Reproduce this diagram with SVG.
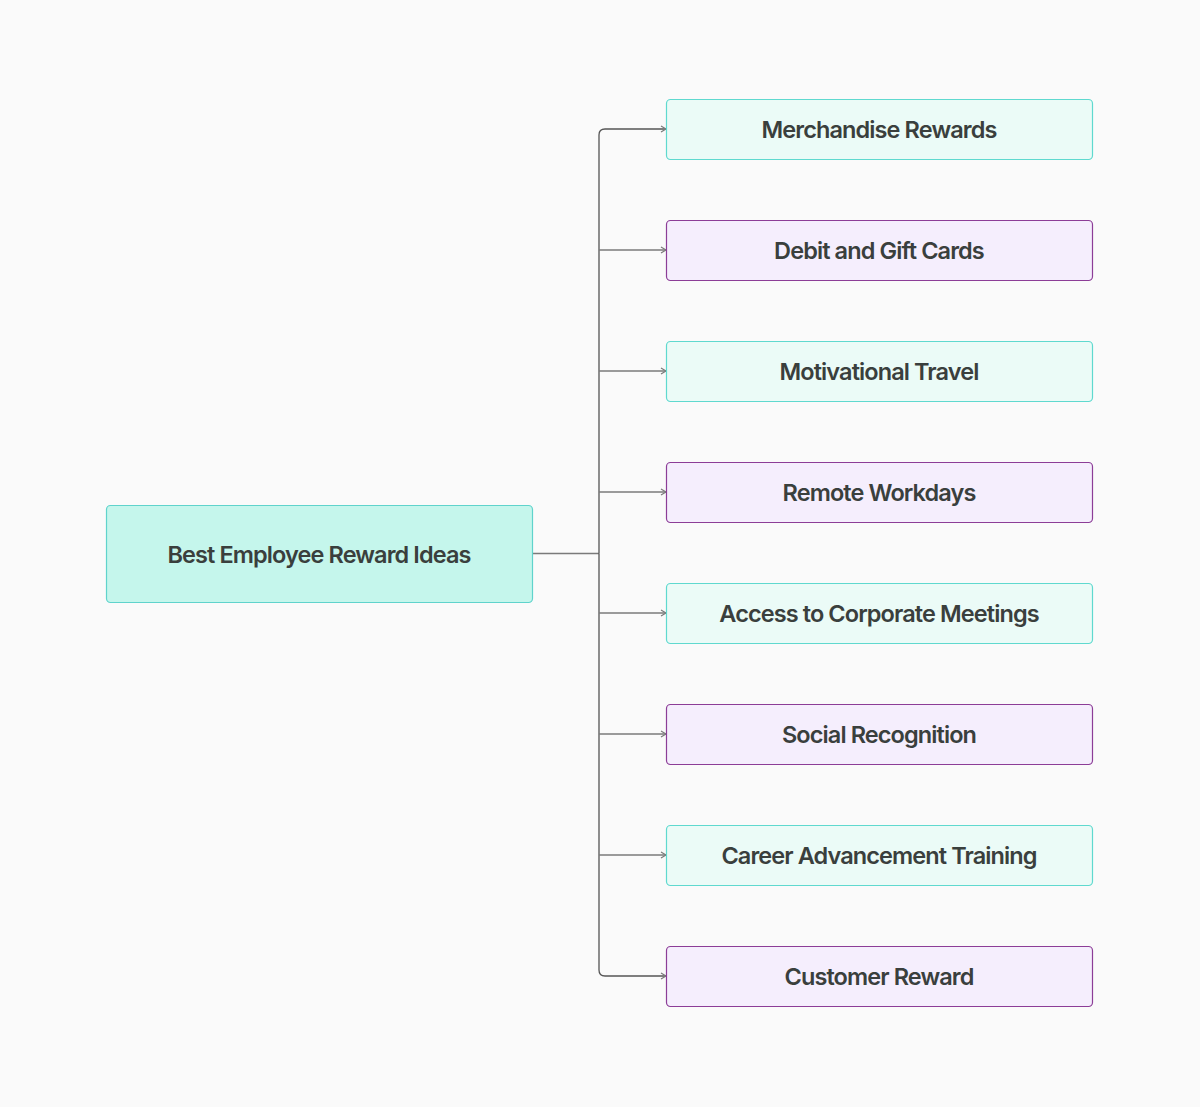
<svg xmlns="http://www.w3.org/2000/svg" width="1200" height="1107" viewBox="0 0 1200 1107">
<style>
.t{font-family:Inter,"Liberation Sans",sans-serif;font-weight:600;font-size:23.5px;letter-spacing:-0.9px;fill:#3a3f3d;text-anchor:middle;dominant-baseline:central}
.g rect{fill:#ebfbf7;stroke:#5fd9cf;stroke-width:1.2}
.p rect{fill:#f5eefd;stroke:#8c3d97;stroke-width:1.2}
.c{fill:none;stroke:#7a7a7a;stroke-width:1.3}
</style>
<defs><marker id="a" markerWidth="8" markerHeight="8" refX="6" refY="4" orient="auto" markerUnits="userSpaceOnUse"><path d="M1,1 L6,4 L1,7" fill="none" stroke="#7a7a7a" stroke-width="1.2"/></marker></defs>
<rect width="1200" height="1107" fill="#fafafa"/>
<g id="connectors">
<path class="c" d="M532,553.5 H599"/>
<path class="c" d="M599,553.5 V135 Q599,129 605,129 H666" marker-end="url(#a)" style="stroke:#555"/>
<path class="c" d="M599,553.5 V970 Q599,976 605,976 H666" marker-end="url(#a)" style="stroke:#555"/>
<path class="c" d="M599,250 H666" marker-end="url(#a)"/>
<path class="c" d="M599,371 H666" marker-end="url(#a)"/>
<path class="c" d="M599,492 H666" marker-end="url(#a)"/>
<path class="c" d="M599,613 H666" marker-end="url(#a)"/>
<path class="c" d="M599,734 H666" marker-end="url(#a)"/>
<path class="c" d="M599,855 H666" marker-end="url(#a)"/>
</g>
<g id="root"><rect x="106.5" y="505.5" width="426" height="97" rx="4" fill="#c5f6ec" stroke="#5fd3cc" stroke-width="1.2"/><text class="t" x="319" y="554">Best Employee Reward Ideas</text></g>
<g id="n1" class="g"><rect x="666.5" y="99.5" width="426" height="60" rx="4"/><text class="t" x="879" y="129">Merchandise Rewards</text></g>
<g id="n2" class="p"><rect x="666.5" y="220.5" width="426" height="60" rx="4"/><text class="t" x="879" y="250">Debit and Gift Cards</text></g>
<g id="n3" class="g"><rect x="666.5" y="341.5" width="426" height="60" rx="4"/><text class="t" x="879" y="371">Motivational Travel</text></g>
<g id="n4" class="p"><rect x="666.5" y="462.5" width="426" height="60" rx="4"/><text class="t" x="879" y="492">Remote Workdays</text></g>
<g id="n5" class="g"><rect x="666.5" y="583.5" width="426" height="60" rx="4"/><text class="t" x="879" y="613">Access to Corporate Meetings</text></g>
<g id="n6" class="p"><rect x="666.5" y="704.5" width="426" height="60" rx="4"/><text class="t" x="879" y="734">Social Recognition</text></g>
<g id="n7" class="g"><rect x="666.5" y="825.5" width="426" height="60" rx="4"/><text class="t" x="879" y="855">Career Advancement Training</text></g>
<g id="n8" class="p"><rect x="666.5" y="946.5" width="426" height="60" rx="4"/><text class="t" x="879" y="976">Customer Reward</text></g>
</svg>
